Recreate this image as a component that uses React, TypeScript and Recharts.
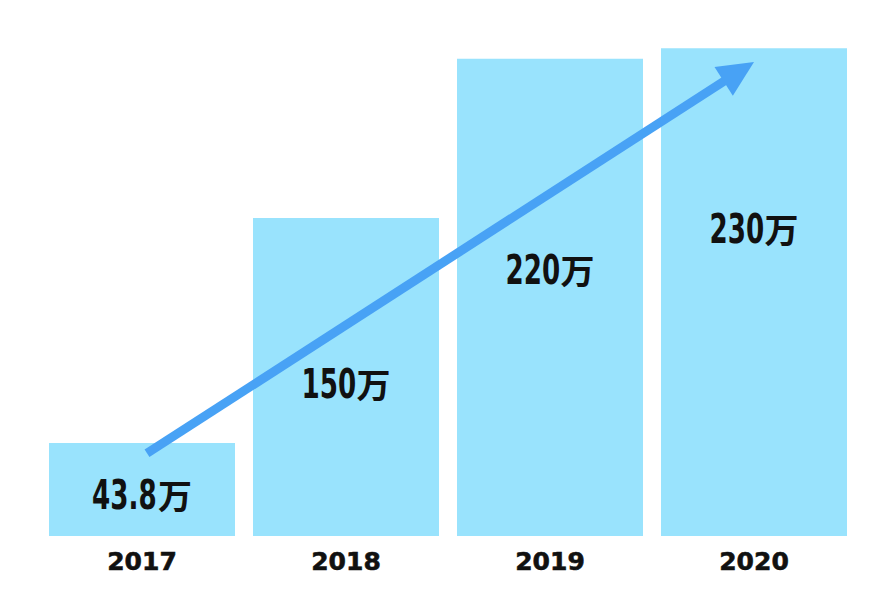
import { ComposedChart, Bar, Line, XAxis, YAxis, ReferenceLine, LabelList } from "recharts";

const years = ["2017", "2018", "2019", "2020"];
const barValues = [43.8, 150, 225, 230];
const valueLabels = ["43.8万", "150万", "220万", "230万"];
// where each value label sits, in value units
const labelAt = [20, 72, 126, 145];
const arrowFrom = 39;
const arrowTo = 223.5;

const data = years.map((year, i) => ({
  year,
  value: barValues[i],
  labelAt: labelAt[i],
  label: valueLabels[i],
}));

const YearTick = (props: any) => {
  const { x, y, payload } = props;
  return (
    <text
      x={x}
      y={y}
      textAnchor="middle"
      fontFamily="DejaVu Sans"
      fontWeight="bold"
      fontSize={25}
      fill="#111"
      stroke="#111"
      strokeWidth={0.6}
    >
      {payload.value}
    </text>
  );
};

// condensed digits + full width 万
const ValueLabel = (props: any) => {
  const { x, y, index } = props;
  const num = valueLabels[index].replace("万", "");
  const sx = 0.71;
  const w = num.split("").reduce((s: number, c: string) => s + (c === "." ? 11 : 18.3), 0);
  const wanW = 34;
  const start = x - (w + wanW) / 2;
  const base = y + 15;
  return (
    <g fill="#111" fontWeight="bold">
      <text
        transform={`translate(${start},${base}) scale(${sx},1)`}
        fontFamily="'DejaVu Sans Condensed', 'DejaVu Sans'"
        fontSize={41}
      >
        {num}
      </text>
      <text x={start + w} y={base} fontFamily="'Noto Sans CJK SC'" fontSize={34}>
        万
      </text>
    </g>
  );
};

const Arrow = (props: any) => {
  const { x1, y1, x2, y2 } = props;
  const ang = Math.atan2(y2 - y1, x2 - x1);
  const head = 36;
  const half = 17;
  const bx = x2 - head * Math.cos(ang);
  const by = y2 - head * Math.sin(ang);
  const px = -Math.sin(ang);
  const py = Math.cos(ang);
  return (
    <g>
      <line x1={x1 + 5} y1={y1} x2={bx + 4 * Math.cos(ang)} y2={by + 4 * Math.sin(ang)} stroke="#48a2f5" strokeWidth={9} />
      <polygon
        points={`${x2},${y2} ${bx + half * px},${by + half * py} ${bx - half * px},${by - half * py}`}
        fill="#48a2f5"
      />
    </g>
  );
};

export default function App() {
  return (
    <div style={{ position: "absolute", left: 0, top: 0, background: "#fff" }}>
      <ComposedChart
        width={894}
        height={609}
        data={data}
        margin={{ top: 27, right: 38, bottom: 0, left: 40 }}
        barCategoryGap={9}
      >
        <XAxis
          dataKey="year"
          axisLine={false}
          tickLine={false}
          tickSize={0}
          tickMargin={0}
          height={73}
          tick={(p: any) => <YearTick {...p} y={p.y + 34} />}
        />
        <YAxis hide domain={[0, 240]} />
        <Bar dataKey="value" fill="#99e3fd" isAnimationActive={false} />
        <Line dataKey="labelAt" stroke="none" dot={false} activeDot={false} isAnimationActive={false}>
          <LabelList dataKey="label" content={(p: any) => <ValueLabel {...p} />} />
        </Line>
        <ReferenceLine
          segment={[
            { x: years[0], y: arrowFrom },
            { x: years[3], y: arrowTo },
          ]}
          shape={(p: any) => <Arrow {...p} />}
        />
      </ComposedChart>
    </div>
  );
}
